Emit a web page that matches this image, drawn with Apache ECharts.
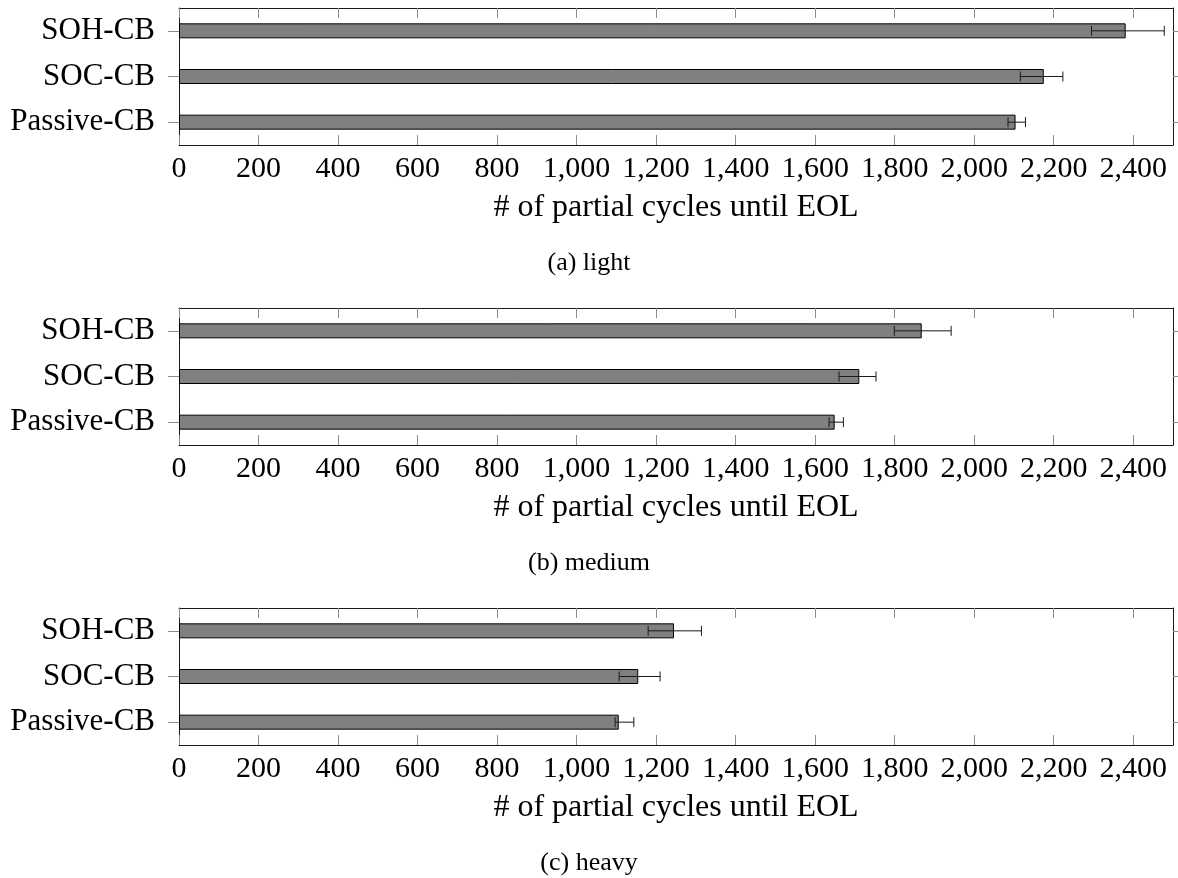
<!DOCTYPE html>
<html>
<head>
<meta charset="utf-8">
<script src="https://cdn.jsdelivr.net/npm/echarts@6/dist/echarts.min.js"></script>
<style>
  html, body { margin: 0; padding: 0; background: #fff; }
  #chart { width: 1178px; height: 878px; }
</style>
</head>
<body>
<div id="chart"></div>
<script>
// Balancing strategies, top to bottom
const categories = ['SOH-CB', 'SOC-CB', 'Passive-CB'];
// Tick values on the cycle axis
const xTicks = [0, 200, 400, 600, 800, 1000, 1200, 1400, 1600, 1800, 2000, 2200, 2400];
const xTitle = '# of partial cycles until EOL';
const captions = ['(a) light', '(b) medium', '(c) heavy'];

// Mean number of partial cycles until end of life, with error bar ends
const lightMean = [2381, 2175, 2104];
const lightLow = [2295, 2116, 2085];
const lightHigh = [2478, 2223, 2129];

const mediumMean = [1868, 1711, 1649];
const mediumLow = [1799, 1660, 1635];
const mediumHigh = [1942, 1753, 1671];

const heavyMean = [1245, 1155, 1106];
const heavyLow = [1180, 1107, 1097];
const heavyHigh = [1314, 1210, 1144];

const panels = [
  { mean: lightMean, low: lightLow, high: lightHigh },
  { mean: mediumMean, low: mediumLow, high: mediumHigh },
  { mean: heavyMean, low: heavyLow, high: heavyHigh }
];

const SERIF = '"Liberation Serif", "DejaVu Serif", serif';
const FRAME = '#1a1a1a';
const TICK = '#8c8c8c';
const gridTops = [8, 308, 608];
const GRID_LEFT = 179, GRID_W = 994, GRID_H = 137;

const grid = [], xAxis = [], yAxis = [], series = [], graphic = [];

panels.forEach((p, i) => {
  grid.push({ left: GRID_LEFT, top: gridTops[i], width: GRID_W, height: GRID_H, containLabel: false });

  // bottom axis with labels and title
  xAxis.push({
    type: 'value', gridIndex: i, position: 'bottom', min: 0, max: 2500,
    splitLine: { show: false },
    axisLine: { show: true, onZero: false, lineStyle: { color: FRAME, width: 1 } },
    axisTick: { show: true, inside: true, length: 10, customValues: xTicks, lineStyle: { color: TICK, width: 1 } },
    axisLabel: {
      show: true, margin: 9, customValues: xTicks,
      fontFamily: SERIF, fontSize: 30, color: '#000',
      formatter: v => v.toLocaleString('en-US')
    },
    name: xTitle, nameLocation: 'middle', nameGap: 47,
    nameTextStyle: { fontFamily: SERIF, fontSize: 32, color: '#000' }
  });
  // top frame with inner ticks
  xAxis.push({
    type: 'value', gridIndex: i, position: 'top', min: 0, max: 2500,
    splitLine: { show: false },
    axisLine: { show: true, onZero: false, lineStyle: { color: FRAME, width: 1 } },
    axisTick: { show: true, inside: true, length: 10, customValues: xTicks, lineStyle: { color: TICK, width: 1 } },
    axisLabel: { show: false }
  });

  // left category axis
  yAxis.push({
    type: 'category', gridIndex: i, position: 'left', inverse: true, data: categories,
    axisLine: { show: true, onZero: false, lineStyle: { color: FRAME, width: 1 } },
    axisTick: { show: true, alignWithLabel: true, length: 11, lineStyle: { color: TICK, width: 1 } },
    axisLabel: { margin: 24, fontFamily: SERIF, fontSize: 31, color: '#000', padding: [4, 0, 0, 0] },
    splitLine: { show: false }
  });
  // right frame with outer ticks
  yAxis.push({
    type: 'category', gridIndex: i, position: 'right', inverse: true, data: categories,
    axisLine: { show: true, onZero: false, lineStyle: { color: FRAME, width: 1 } },
    axisTick: { show: true, alignWithLabel: true, length: 8, lineStyle: { color: TICK, width: 1 } },
    axisLabel: { show: false },
    splitLine: { show: false }
  });

  series.push({
    type: 'bar', xAxisIndex: 2 * i, yAxisIndex: 2 * i,
    data: p.mean, barWidth: 15,
    itemStyle: { color: '#808080', borderColor: '#000', borderWidth: 1 },
    silent: true, z: 2
  });

  series.push({
    type: 'custom', xAxisIndex: 2 * i, yAxisIndex: 2 * i,
    data: categories.map((c, k) => [k, p.low[k], p.high[k]]),
    encode: { x: [1, 2], y: 0 },
    silent: true, z: 3,
    renderItem: (params, api) => {
      const k = api.value(0);
      const a = api.coord([api.value(1), k]);
      const b = api.coord([api.value(2), k]);
      const h = 5;
      const st = { stroke: '#1a1a1a', lineWidth: 1 };
      return {
        type: 'group',
        children: [
          { type: 'line', shape: { x1: a[0], y1: a[1], x2: b[0], y2: b[1] }, style: st },
          { type: 'line', shape: { x1: a[0], y1: a[1] - h, x2: a[0], y2: a[1] + h }, style: st },
          { type: 'line', shape: { x1: b[0], y1: b[1] - h, x2: b[0], y2: b[1] + h }, style: st }
        ]
      };
    }
  });

  graphic.push({
    type: 'text', left: 'center', top: gridTops[i] + 242,
    style: { text: captions[i], font: '26px ' + SERIF, fill: '#000' }
  });
});

const chart = echarts.init(document.getElementById('chart'), null, { renderer: 'canvas' });
chart.setOption({
  animation: false,
  backgroundColor: '#fff',
  grid, xAxis, yAxis, series, graphic
});
</script>
</body>
</html>
